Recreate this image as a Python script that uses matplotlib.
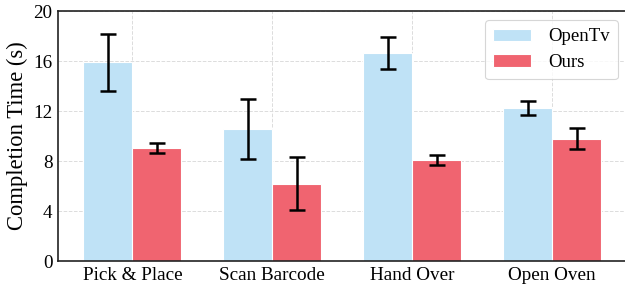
import matplotlib
matplotlib.use("Agg")
import matplotlib.pyplot as plt
import numpy as np

categories = ["Pick & Place", "Scan Barcode", "Hand Over", "Open Oven"]
opentv_mean = [15.9, 10.55, 16.65, 12.25]
opentv_err = [2.3, 2.4, 1.3, 0.55]
ours_mean = [9.05, 6.2, 8.1, 9.8]
ours_err = [0.4, 2.15, 0.4, 0.85]
series_names = ["OpenTv", "Ours"]
yticks = [0, 4, 8, 12, 16, 20]

plt.rcParams['font.family'] = ['Liberation Serif', 'DejaVu Serif']

fig = plt.figure(figsize=(6.25, 2.88), dpi=100)
ax = fig.add_axes([58/625, 27/288, 569/625, 250/288])

x = np.arange(len(categories))
w = 0.35
ax.bar(x - w/2, opentv_mean, w, color='#BFE2F6', edgecolor='white', linewidth=0.8,
       label=series_names[0], zorder=2)
ax.bar(x + w/2, ours_mean, w, color='#F06470', edgecolor='white', linewidth=0.8,
       label=series_names[1], zorder=2)
ax.errorbar(x - w/2, opentv_mean, yerr=opentv_err, fmt='none', ecolor='black',
            elinewidth=1.8, capsize=6, capthick=1.8, zorder=3)
ax.errorbar(x + w/2, ours_mean, yerr=ours_err, fmt='none', ecolor='black',
            elinewidth=1.8, capsize=6, capthick=1.8, zorder=3)

ax.set_xticks(x)
ax.set_xticklabels(categories, fontsize=13.8)
ax.set_yticks(yticks)
ax.set_yticklabels([str(v) for v in yticks], fontsize=13.8)
ax.set_ylim(0, 20)
ax.set_xlim(-0.532, 3.535)
ax.set_ylabel("Completion Time (s)", fontsize=16.3, labelpad=4)
ax.grid(True, linestyle='--', color='#dcdcdc', linewidth=0.7, zorder=0)
ax.set_axisbelow(True)
ax.tick_params(length=0, pad=4)
for s in ax.spines.values():
    s.set_color('#222222')
    s.set_linewidth(1.2)

leg = ax.legend(loc='upper right', bbox_to_anchor=(0.984, 0.964), borderaxespad=0,
                fontsize=13.5, frameon=True, fancybox=True, handlelength=2.0,
                handleheight=0.65, borderpad=0.45, labelspacing=0.45, handletextpad=0.9)
leg.get_frame().set_edgecolor('#cccccc')
leg.get_frame().set_linewidth(0.8)

fig.savefig("out.png", dpi=100)
